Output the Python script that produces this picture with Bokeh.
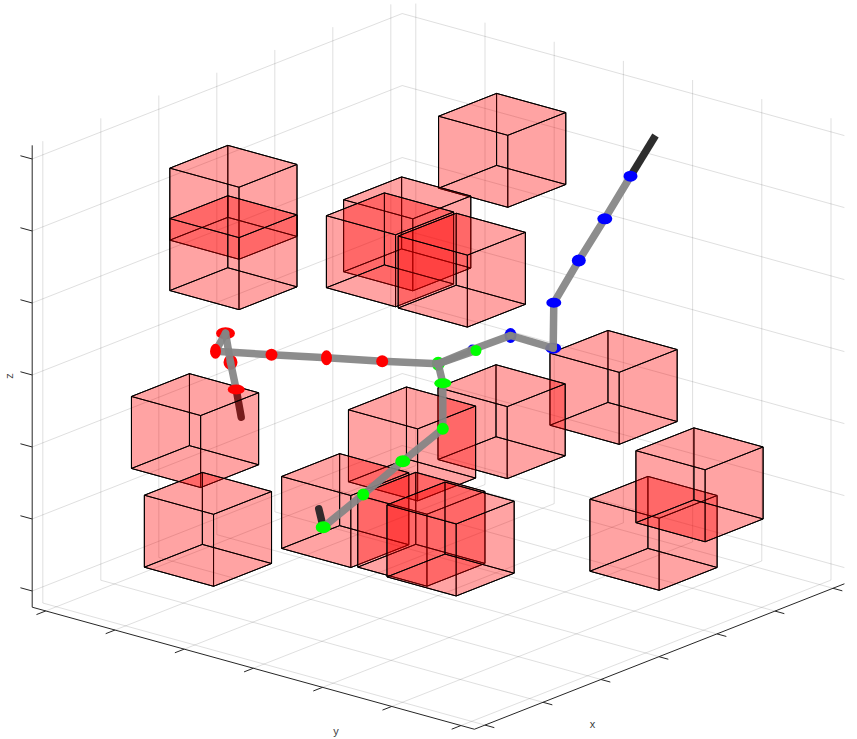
from bokeh.plotting import figure
from bokeh.core.properties import value
from bokeh.embed import file_html
from bokeh.resources import INLINE

# Obstacles: lower corner of each unit cube in axis units
cube_x = [3.81, 0.56, 0.56, 1.91, 1.84, 2.29, 4.06, 2.38, 1.17, -0.03, 0.30, 1.76, 1.82, 2.24, 3.83, 4.48]
cube_y = [2.33, 1.17, 1.17, 2.55, 2.36, 3.02, 3.73, 3.52, 3.24, 1.11, 1.02, 1.78, 2.83, 2.90, 4.50, 4.62]
cube_z = [5.00, 5.00, 4.30, 4.50, 4.25, 4.00, 2.00, 2.00, 2.00, 2.00, 0.50, 0.50, 0.50, 0.25, 0.25, 0.75]

# Three chains, read in view-plane units
red_u = [240.7, 235.7, 230.0, 225.0, 215.0, 271.0, 326.0, 381.7, 437.7]
red_v = [416.7, 389.0, 361.7, 332.7, 350.7, 354.3, 357.3, 360.7, 363.3]
green_u = [318.3, 322.7, 362.7, 402.3, 442.3, 442.3, 437.7, 475.5]
green_v = [508.3, 526.7, 494.0, 460.7, 428.3, 382.7, 363.3, 350.0]
blue_u = [655.0, 630.0, 604.3, 578.3, 553.3, 552.7, 510.0, 472.0, 437.7]
blue_v = [135.0, 175.7, 218.3, 260.0, 302.3, 347.7, 335.0, 349.0, 363.3]

tick_values = [0, 1, 2, 3, 4, 5, 6]
x_lim = (-0.183, 6.197)
y_lim = (-0.196, 6.194)
z_lim = (-0.225, 6.19)

ORIGIN = (55.87, 590.07)
VX, VY, VZ = (58.0, -22.8), (69.2, 19.1), (0.0, -72.0)


def pr(x, y, z):
    return (ORIGIN[0] + x * VX[0] + y * VY[0] + z * VZ[0],
            ORIGIN[1] + x * VX[1] + y * VY[1] + z * VZ[1])


def seg(a, b):
    pa, pb = pr(*a), pr(*b)
    return [pa[0], pb[0]], [pa[1], pb[1]]


p = figure(width=857, height=739, x_range=(0, 857), y_range=(739, 0),
           output_backend="svg", toolbar_location=None, min_border=0,
           x_axis_type=None, y_axis_type=None, outline_line_color=None)
p.grid.visible = False
p.background_fill_color = "white"
p.border_fill_color = "white"

x0, x1 = x_lim
y0, y1 = y_lim
z0, z1 = z_lim

# Back-wall and floor grid
gx, gy = [], []
for t in tick_values:
    for a, b in [((t, y0, z0), (t, y1, z0)), ((t, y0, z0), (t, y0, z1)),
                 ((x0, t, z0), (x1, t, z0)), ((x1, t, z0), (x1, t, z1)),
                 ((x0, y0, t), (x1, y0, t)), ((x1, y0, t), (x1, y1, t))]:
        sx, sy = seg(a, b)
        gx.append(sx)
        gy.append(sy)
p.multi_line(gx, gy, line_color="#262626", line_alpha=0.15, line_width=1)

# Axis rulers and ticks
ax, ay = [], []
for a, b in [((x0, y0, z0), (x0, y0, z1)), ((x0, y0, z0), (x0, y1, z0)), ((x0, y1, z0), (x1, y1, z0))]:
    sx, sy = seg(a, b)
    ax.append(sx)
    ay.append(sy)
for t in tick_values:
    for a, b in [((x0, y0, t), (x0, y0 - 0.17, t)),
                 ((x0, t, z0), (x0 - 0.16, t, z0)),
                 ((t, y1, z0), (t, y1 + 0.135, z0))]:
        sx, sy = seg(a, b)
        ax.append(sx)
        ay.append(sy)
p.multi_line(ax, ay, line_color="#262626", line_width=1)

# End of the red chain sits behind the cube it passes through
p.line(red_u[:2], red_v[:2], line_color="#2d2d2d", line_width=7.5, line_cap="round")

# Cubes
fx, fy = [], []
for cx, cy, cz in zip(cube_x, cube_y, cube_z):
    c = [(cx + i, cy + j, cz + k) for i in (0, 1) for j in (0, 1) for k in (0, 1)]
    for face in [(0, 1, 3, 2), (4, 5, 7, 6), (0, 1, 5, 4), (2, 3, 7, 6), (0, 2, 6, 4), (1, 3, 7, 5)]:
        pts = [pr(*c[n]) for n in face]
        fx.append([q[0] for q in pts])
        fy.append([q[1] for q in pts])
p.patches(fx, fy, fill_color="#ff0000", fill_alpha=0.2, line_color="black", line_width=1, line_join="round")

# Remaining chain ends
p.line(green_u[:2], green_v[:2], line_color="#33292b", line_width=7.5, line_cap="round")
p.line(blue_u[:2], blue_v[:2], line_color="#2d2d2d", line_width=7.5, line_cap="butt")

w_red = [0, 17, 14, 19, 11, 12, 11, 12, 0]
h_red = [0, 10, 15, 12, 15, 12, 15, 12, 0]
w_green = [0, 15, 12, 15, 12, 17, 13, 11]
h_green = [0, 12, 12, 12, 12, 10, 14, 11]
w_blue = [0, 14, 15, 14, 15, 16, 12, 10, 0]
h_blue = [0, 11, 11, 12, 10, 11, 15, 10, 0]

# Nodes that the rope passes in front of
under = [("#ff0000", red_u, red_v, w_red, h_red, [2, 3]),
         ("#0000ff", blue_u, blue_v, w_blue, h_blue, [5, 6, 7]),
         ("#00ff00", green_u, green_v, w_green, h_green, [6])]
for col, u, v, w, h, idx in under:
    p.ellipse([u[i] for i in idx], [v[i] for i in idx], width=[w[i] for i in idx], height=[h[i] for i in idx],
              fill_color=col, line_color=None)

# Rope
rx, ry = [], []
for u, v in [(red_u, red_v), (green_u, green_v), (blue_u, blue_v)]:
    for i in range(1, len(u) - 1):
        rx.append(u[i:i + 2])
        ry.append(v[i:i + 2])
p.multi_line(rx, ry, line_color="#848484", line_alpha=0.93, line_width=7.5, line_cap="round")

over = [("#ff0000", red_u, red_v, w_red, h_red, [1, 4, 5, 6, 7]),
        ("#0000ff", blue_u, blue_v, w_blue, h_blue, [1, 2, 3, 4]),
        ("#00ff00", green_u, green_v, w_green, h_green, [1, 2, 3, 4, 5, 7])]
for col, u, v, w, h, idx in over:
    p.ellipse([u[i] for i in idx], [v[i] for i in idx], width=[w[i] for i in idx], height=[h[i] for i in idx],
              fill_color=col, line_color=None)

# Axis names
font = value("Liberation Sans")
p.text([592], [723], text=["x"], text_font=font, text_font_size="11px", text_color="#404040",
       text_align="center", text_baseline="middle")
p.text([335.5], [730], text=["y"], text_font=font, text_font_size="11px", text_color="#404040",
       text_align="center", text_baseline="middle")
p.text([8.5], [375.5], text=["z"], text_font=font, text_font_size="11px", text_color="#404040",
       text_align="center", text_baseline="middle", angle=1.5708)

open("out.html", "w").write(file_html(p, INLINE))
